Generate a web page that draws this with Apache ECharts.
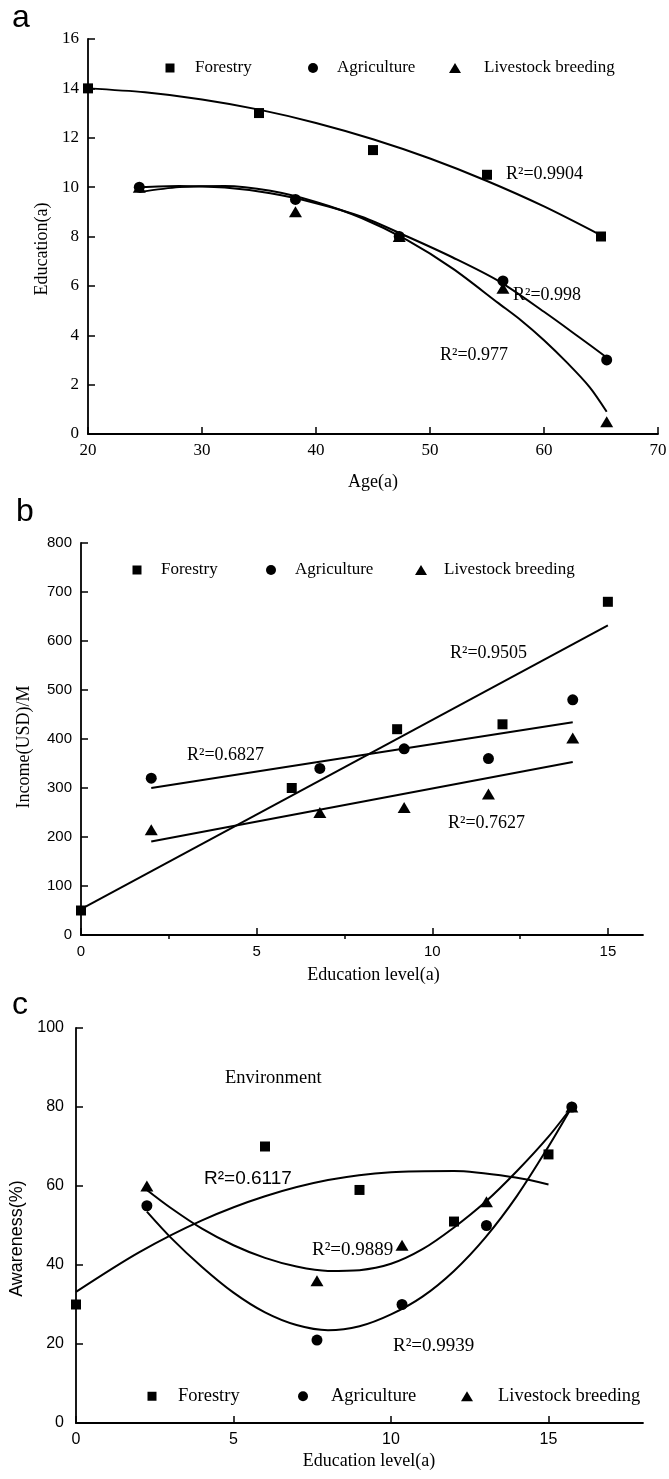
<!DOCTYPE html>
<html>
<head>
<meta charset="utf-8">
<title>Education, income and awareness by sector</title>
<script src="https://cdn.jsdelivr.net/npm/echarts@6/dist/echarts.min.js"></script>
<style>
  html, body { margin: 0; padding: 0; background: #fff; }
  #main { width: 669px; height: 1479px; }
</style>
</head>
<body>
<div id="main"></div>
<script>
// ---- panel a: education vs age ----
const aForestryAge = [20, 35, 45, 55, 65]
const aForestryEdu = [14, 13, 11.5, 10.5, 8]
const aFarmAge = [24.5, 38.2, 47.3, 56.4, 65.5] // agriculture and livestock share ages
const aAgriEdu = [10, 9.5, 8, 6.2, 3]
const aLivestockEdu = [10, 9, 8, 5.9, 0.5]
// fitted curves
const aFitForestryAge = [20, 25, 30, 35, 40, 45, 50, 55, 60, 65]
const aFitForestryEdu = [14.0, 13.84, 13.55, 13.14, 12.6, 11.94, 11.16, 10.25, 9.22, 8.05]
const aFitAgriAge = [24.5, 28, 32, 36, 40, 44, 48, 52, 56, 60, 63, 65.5]
const aFitAgriEdu = [10.0, 10.05, 9.98, 9.75, 9.35, 8.8, 8.0, 7.15, 6.2, 4.95, 3.95, 3.1]
const aFitLivestockAge = [24.5, 28, 32, 36, 40, 44, 48, 52, 56, 58, 60, 62, 64, 65.5]
const aFitLivestockEdu = [9.8, 10.0, 10.05, 9.85, 9.4, 8.75, 7.85, 6.7, 5.3, 4.6, 3.8, 2.9, 1.9, 0.9]

// ---- panel b: income vs education ----
const bForestryEdu = [0, 6, 9, 12, 15]
const bForestryIncome = [50, 300, 420, 430, 680]
const bFarmEdu = [2, 6.8, 9.2, 11.6, 14]
const bAgriIncome = [320, 340, 380, 360, 480]
const bLivestockIncome = [215, 250, 260, 288, 402]
const bFitForestryEdu = [0, 15]
const bFitForestryIncome = [53, 632]
const bFitFarmEdu = [2, 14]
const bFitAgriIncome = [300, 434]
const bFitLivestockIncome = [191, 353]

// ---- panel c: awareness vs education ----
const cForestryEdu = [0, 6, 9, 12, 15]
const cForestryAware = [30, 70, 59, 51, 68]
const cFarmEdu = [2.25, 7.65, 10.35, 13.03, 15.74]
const cAgriAware = [55, 21, 30, 50, 80]
const cLivestockAware = [60, 36, 45, 56, 80]
const cFitForestryEdu = [0, 2, 4, 6, 8, 10, 12, 14, 15]
const cFitForestryAware = [33.2, 43.2, 51.3, 57.4, 61.5, 63.5, 63.8, 62.1, 60.4]
const cFitFarmEdu = [2.25, 3, 4, 5, 6, 7, 8, 9, 10, 11, 12, 13, 14, 15, 15.74]
const cFitAgriAware = [53.5, 47, 39.5, 33, 28, 24.8, 23.5, 24.5, 27.5, 32, 38.5, 47, 57.5, 70, 80]
const cFitLivestockAware = [59, 54.5, 49.2, 45, 41.8, 39.6, 38.5, 38.7, 40.3, 44, 49.5, 56, 63.8, 72.5, 80]

// tick labels
const bEduTicks = [0, 5, 10, 15]
const bEduMinorTicks = [2.5, 7.5, 12.5]
const cEduTicks = [0, 5, 10, 15]

const sectors = ['Forestry', 'Agriculture', 'Livestock breeding']

const INK = '#000'
const SERIF = 'Liberation Serif'
const SANS = 'Liberation Sans'

function zip (xs, ys) {
  return xs.map((x, i) => [x, ys[i]])
}

function points (name, grid, xs, ys, symbol, size) {
  return {
    name: name,
    type: 'scatter',
    xAxisIndex: grid,
    yAxisIndex: grid,
    symbol: symbol,
    symbolSize: size,
    itemStyle: { color: INK, opacity: 1 },
    z: 3,
    data: zip(xs, ys)
  }
}

function fit (name, grid, xs, ys, smooth) {
  return {
    name: name,
    type: 'line',
    xAxisIndex: grid,
    yAxisIndex: grid,
    smooth: smooth,
    symbol: 'none',
    lineStyle: { color: INK, width: 2 },
    z: 2,
    data: zip(xs, ys)
  }
}

function axis (grid, min, max, interval, family, size, margin, name, nameGap, namePad, nameFamily) {
  return {
    gridIndex: grid,
    type: 'value',
    min: min,
    max: max,
    interval: interval,
    axisLine: { show: true, onZero: false, lineStyle: { color: INK, width: 1.8 } },
    axisTick: { show: true, inside: true, length: 7, lineStyle: { color: INK, width: 1.5 } },
    axisLabel: { color: INK, fontFamily: family, fontSize: size, margin: margin },
    splitLine: { show: false },
    name: name,
    nameLocation: 'middle',
    nameGap: nameGap,
    nameTextStyle: { color: INK, fontFamily: nameFamily, fontSize: 18, padding: namePad }
  }
}

// one legend entry per item, placed where the figure has it
function legendAt (name, cx, cy, textX, w, h, size) {
  return {
    data: [name],
    left: cx - w / 2,
    top: cy - size / 2,
    padding: 0,
    itemWidth: w,
    itemHeight: h,
    selectedMode: false,
    itemStyle: { opacity: 1 },
    textStyle: {
      color: INK,
      fontFamily: SERIF,
      fontSize: size,
      padding: [0, 0, 0, textX - (cx + w / 2 + 5)]
    }
  }
}

function note (text, x, y, size, family) {
  return {
    type: 'text',
    x: x,
    y: y,
    style: { text: text, fill: INK, fontFamily: family, fontSize: size, align: 'left', verticalAlign: 'middle' }
  }
}

const xB = axis(1, 0, 16, 5, SANS, 15, 9, 'Education level(a)', 31, [0, 0, 0, 23], SERIF)
xB.axisLabel.customValues = bEduTicks
xB.axisTick.customValues = bEduTicks
const xC = axis(2, 0, 18, 5, SANS, 16, 9, 'Education level(a)', 29, [0, 0, 0, 19], SERIF)
xC.axisLabel.customValues = cEduTicks
xC.axisTick.customValues = cEduTicks

const option = {
  animation: false,
  backgroundColor: '#fff',
  grid: [
    { left: 88, top: 39, width: 570, height: 395, outerBoundsMode: 'none' },
    { left: 81, top: 543, width: 562, height: 392, outerBoundsMode: 'none' },
    { left: 76, top: 1028, width: 567, height: 395, outerBoundsMode: 'none' }
  ],
  xAxis: [
    axis(0, 20, 70, 10, SERIF, 17, 8, 'Age(a)', 39, [0, 0, 0, 0], SERIF),
    xB,
    xC,
    {
      // minor ticks of panel b
      gridIndex: 1,
      type: 'value',
      min: 0,
      max: 16,
      axisLine: { show: false },
      axisTick: { show: true, inside: true, length: 4, customValues: bEduMinorTicks, lineStyle: { color: INK, width: 1.5 } },
      axisLabel: { show: false },
      splitLine: { show: false }
    }
  ],
  yAxis: [
    axis(0, 0, 16, 2, SERIF, 17, 9, 'Education(a)', 36, [0, 25, 0, 0], SERIF),
    axis(1, 0, 800, 100, SANS, 15, 9, 'Income(USD)/M', 48, [0, 16, 0, 0], SERIF),
    axis(2, 0, 100, 20, SANS, 16, 12, 'Awareness(%)', 48, [0, 26, 0, 0], SANS)
  ],
  legend: [
    legendAt(sectors[0], 170, 68, 195, 9, 9, 17),
    legendAt(sectors[1], 313, 68, 337, 10, 10, 17),
    legendAt(sectors[2], 455, 68, 484, 12, 10, 17),
    legendAt(sectors[0], 137, 570, 161, 9, 9, 17),
    legendAt(sectors[1], 271, 570, 295, 10, 10, 17),
    legendAt(sectors[2], 421, 570, 444, 12, 10, 17),
    legendAt(sectors[0], 152, 1396, 178, 9, 9, 18.5),
    legendAt(sectors[1], 303, 1396, 331, 10, 10, 18.5),
    legendAt(sectors[2], 467, 1396, 498, 12, 10, 18.5)
  ],
  graphic: [
    note('a', 12, 18, 32, SANS),
    note('b', 16, 512, 32, SANS),
    note('c', 12, 1005, 32, SANS),
    note('R²=0.9904', 506, 174, 18, SERIF),
    note('R²=0.998', 513, 295, 18, SERIF),
    note('R²=0.977', 440, 355, 18, SERIF),
    note('R²=0.9505', 450, 653, 18, SERIF),
    note('R²=0.6827', 187, 755, 18, SERIF),
    note('R²=0.7627', 448, 823, 18, SERIF),
    note('Environment', 225, 1078, 18.5, SERIF),
    note('R²=0.6117', 204, 1179, 19, SANS),
    note('R²=0.9889', 312, 1250, 19, SERIF),
    note('R²=0.9939', 393, 1346, 19, SERIF)
  ],
  series: [
    fit('Forestry fit a', 0, aFitForestryAge, aFitForestryEdu, 0.3),
    fit('Agriculture fit a', 0, aFitAgriAge, aFitAgriEdu, 0.3),
    fit('Livestock fit a', 0, aFitLivestockAge, aFitLivestockEdu, 0.3),
    points(sectors[0], 0, aForestryAge, aForestryEdu, 'rect', 10),
    points(sectors[1], 0, aFarmAge, aAgriEdu, 'circle', 11),
    points(sectors[2], 0, aFarmAge, aLivestockEdu, 'triangle', [13, 11]),

    fit('Forestry fit b', 1, bFitForestryEdu, bFitForestryIncome, false),
    fit('Agriculture fit b', 1, bFitFarmEdu, bFitAgriIncome, false),
    fit('Livestock fit b', 1, bFitFarmEdu, bFitLivestockIncome, false),
    points(sectors[0], 1, bForestryEdu, bForestryIncome, 'rect', 10),
    points(sectors[1], 1, bFarmEdu, bAgriIncome, 'circle', 11),
    points(sectors[2], 1, bFarmEdu, bLivestockIncome, 'triangle', [13, 11]),

    fit('Forestry fit c', 2, cFitForestryEdu, cFitForestryAware, 0.3),
    fit('Agriculture fit c', 2, cFitFarmEdu, cFitAgriAware, 0.3),
    fit('Livestock fit c', 2, cFitFarmEdu, cFitLivestockAware, 0.3),
    points(sectors[0], 2, cForestryEdu, cForestryAware, 'rect', 10),
    points(sectors[1], 2, cFarmEdu, cAgriAware, 'circle', 11),
    points(sectors[2], 2, cFarmEdu, cLivestockAware, 'triangle', [13, 11])
  ]
}

const myChart = echarts.init(document.getElementById('main'))
myChart.setOption(option)
</script>
</body>
</html>
